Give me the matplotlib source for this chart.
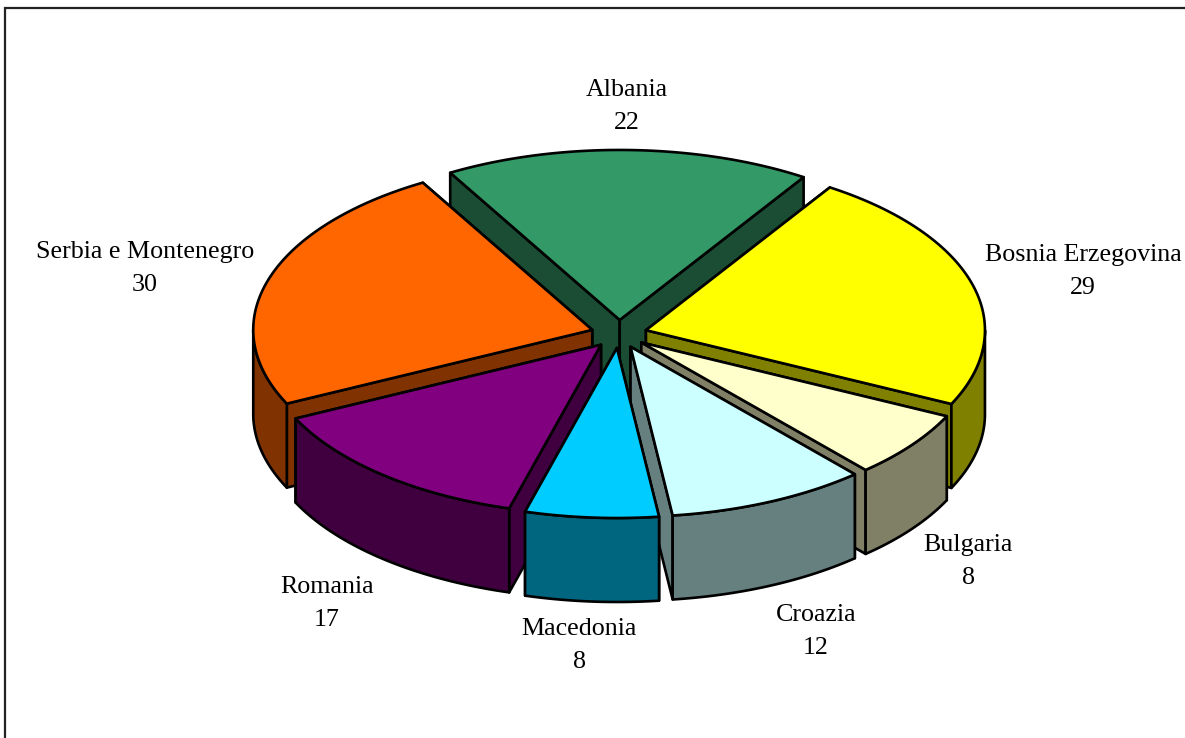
import numpy as np
import matplotlib
matplotlib.use('Agg')
import matplotlib.pyplot as plt
from matplotlib.patches import Polygon

# clockwise, starting from Albania
countries = ['Albania', 'Bosnia Erzegovina', 'Bulgaria', 'Croazia', 'Macedonia', 'Romania', 'Serbia e Montenegro']
values = [22, 29, 8, 12, 8, 17, 30]

top_colors = ['#339966', '#FFFF00', '#FFFFCC', '#CCFFFF', '#00CCFF', '#800080', '#FF6600']
side_colors = ['#1A4D33', '#808000', '#808066', '#668080', '#006680', '#400040', '#803300']

# label centres in pixels
label_xy = [(627, 106.5), (1083, 271.5), (968.5, 561.5), (816, 631.5), (579, 645.5), (327, 603.5), (145, 268.5)]

cx, cy = 619, 334
rx, ry = 339, 170
depth = 84
explode = 28
start_angle = -30

W, H = 1185, 738


def pt(x0, y0, a, r=1.0):
    # a in degrees clockwise from top, squashed ellipse
    t = np.radians(a)
    return x0 + r * rx * np.sin(t), y0 - r * ry * np.cos(t)


def arc(x0, y0, a0, a1):
    aa = np.linspace(a0, a1, max(int(abs(a1 - a0) * 2), 2))
    return np.column_stack(pt(x0, y0, aa))


fig = plt.figure(figsize=(W / 100, H / 100), dpi=100)
ax = fig.add_axes([0, 0, 1, 1])
ax.set_xlim(0, W)
ax.set_ylim(H, 0)
ax.axis('off')

# frame, only top and left edges are in the picture
ax.plot([5, 5, W], [H, 8, 8], color='#222222', lw=1.6, solid_joinstyle='miter', zorder=0)

edges = np.cumsum([0] + values) / sum(values) * 360 + start_angle
lw = 1.9

# back to front by position of the slice middle
draw_order = sorted(range(len(values)), key=lambda k: -np.cos(np.radians((edges[k] + edges[k + 1]) / 2)))

z = 1
for i in draw_order:
    a0, a1 = edges[i], edges[i + 1]
    mid = np.radians((a0 + a1) / 2)
    x0 = cx + explode * np.sin(mid)
    y0 = cy - explode * ry / rx * np.cos(mid)
    side = side_colors[i]

    # radial walls
    walls = []
    for a in (a0, a1):
        ex, ey = pt(x0, y0, a)
        walls.append((ey, [(x0, y0), (ex, ey), (ex, ey + depth), (x0, y0 + depth)]))
    for _, w in sorted(walls, key=lambda q: q[0]):
        ax.add_patch(Polygon(w, closed=True, fc=side, ec='black', lw=lw, joinstyle='round', zorder=z))
        z += 1

    # outer wall, front half only
    lo = max(a0, 90)
    hi = min(a1, 270)
    if hi > lo:
        top = arc(x0, y0, lo, hi)
        bottom = top[::-1] + np.array([0, depth])
        ax.add_patch(Polygon(np.vstack([top, bottom]), closed=True, fc=side, ec='black', lw=lw,
                             joinstyle='round', zorder=z))
        z += 1

    # top face
    face = np.vstack([[(x0, y0)], arc(x0, y0, a0, a1)])
    ax.add_patch(Polygon(face, closed=True, fc=top_colors[i], ec='black', lw=lw, joinstyle='round', zorder=z))
    z += 1

for name, v, (lx, ly) in zip(countries, values, label_xy):
    ax.text(lx, ly, f'{name}\n{v}', ha='center', va='center', family='Liberation Serif',
            fontsize=18.7, linespacing=1.6, color='black', zorder=z)

fig.savefig('out.png', dpi=100)
